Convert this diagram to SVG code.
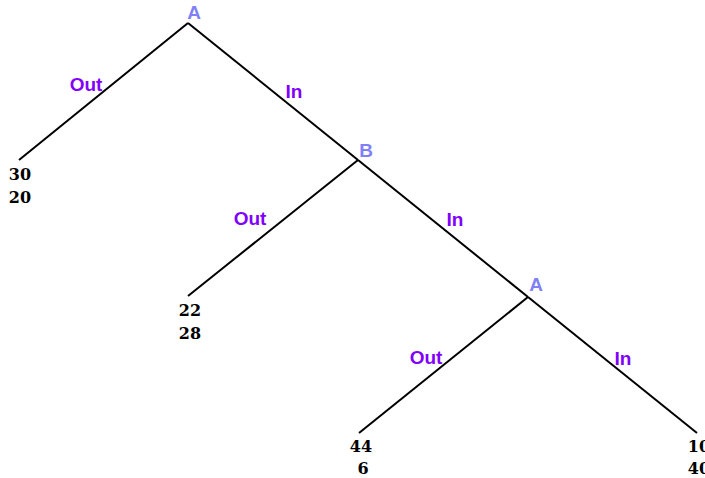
<svg xmlns="http://www.w3.org/2000/svg" width="705" height="478" viewBox="0 0 705 478">
<style>
.e{stroke:#000;stroke-width:2;fill:none}
.n{font-family:"Liberation Sans",Arial,sans-serif;font-weight:bold;font-size:19px;fill:#8080f8;text-anchor:middle}
.l{font-family:"Liberation Sans",Arial,sans-serif;font-weight:bold;font-size:19px;fill:#7f00ff;text-anchor:middle}
.v{font-family:"DejaVu Serif",serif;font-weight:bold;font-size:16px;fill:#000;text-anchor:middle}
</style>
<rect width="705" height="478" fill="#fff"/>
<g id="connectors">
<line class="e" x1="188" y1="23" x2="19" y2="160"/>
<line class="e" x1="188" y1="23" x2="358" y2="160"/>
<line class="e" x1="358" y1="160" x2="188" y2="296"/>
<line class="e" x1="358" y1="160" x2="528" y2="297"/>
<line class="e" x1="528" y1="297" x2="359" y2="433"/>
<line class="e" x1="528" y1="297" x2="697" y2="433"/>
<text class="l" x="86" y="91">Out</text>
<text class="l" x="294" y="98">In</text>
<text class="l" x="250" y="225">Out</text>
<text class="l" x="455" y="226">In</text>
<text class="l" x="426" y="364">Out</text>
<text class="l" x="623" y="365">In</text>
</g>
<g id="nodeA1"><text class="n" x="194" y="19">A</text></g>
<g id="nodeB"><text class="n" x="366" y="157">B</text></g>
<g id="nodeA2"><text class="n" x="536" y="291">A</text></g>
<g id="leaf1"><text class="v" x="20" y="180">30</text><text class="v" x="20" y="203">20</text></g>
<g id="leaf2"><text class="v" x="190" y="316">22</text><text class="v" x="190" y="339">28</text></g>
<g id="leaf3"><text class="v" x="361" y="452">44</text><text class="v" x="363" y="474">6</text></g>
<g id="leaf4"><text class="v" x="699" y="452">10</text><text class="v" x="699" y="474">40</text></g>
</svg>
